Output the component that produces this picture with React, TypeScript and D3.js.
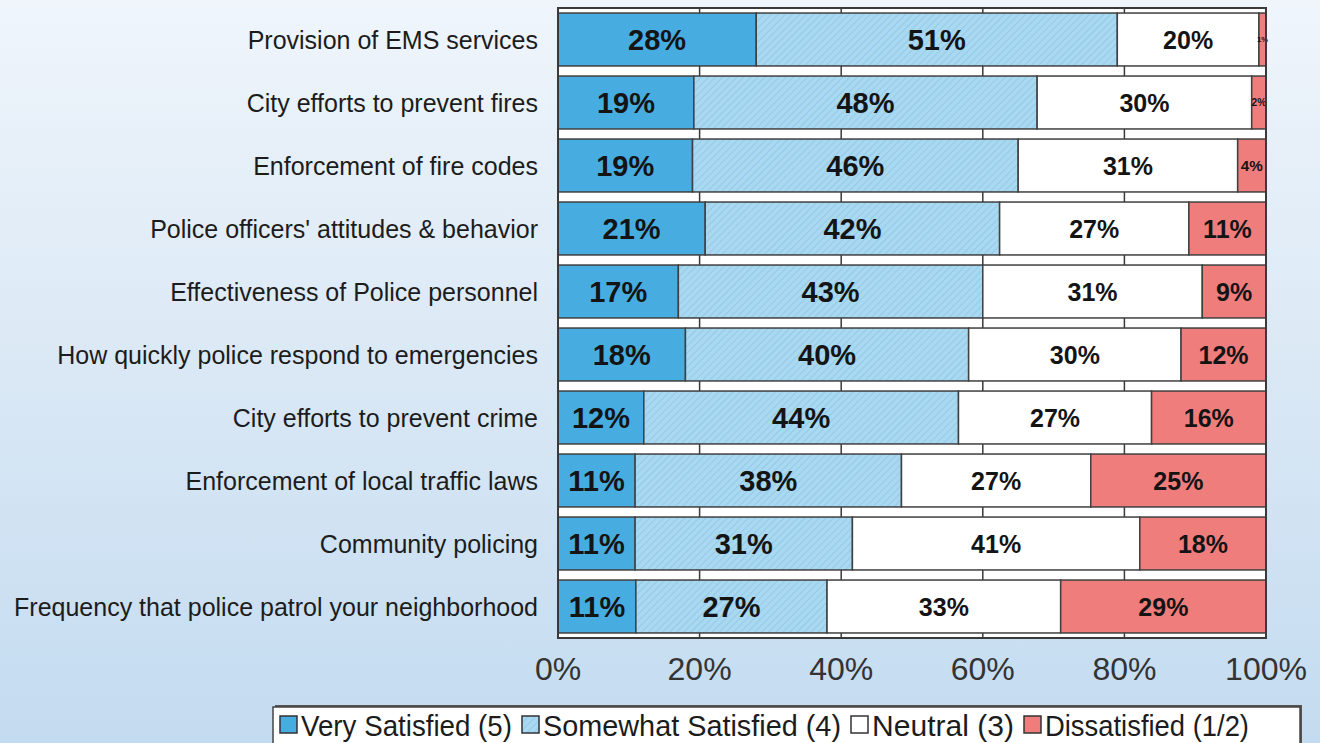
import React from "react";
import * as d3 from "d3";

const categories = [
  "Provision of EMS services",
  "City efforts to prevent fires",
  "Enforcement of fire codes",
  "Police officers' attitudes & behavior",
  "Effectiveness of Police personnel",
  "How quickly police respond to emergencies",
  "City efforts to prevent crime",
  "Enforcement of local traffic laws",
  "Community policing",
  "Frequency that police patrol your neighborhood",
];
const verySatisfied = [28, 19, 19, 21, 17, 18, 12, 11, 11, 11];
const somewhatSatisfied = [51, 48, 46, 42, 43, 40, 44, 38, 31, 27];
const neutral = [20, 30, 31, 27, 31, 30, 27, 27, 41, 33];
const dissatisfied = [1, 2, 4, 11, 9, 12, 16, 25, 18, 29];
const seriesKeys = ["very", "somewhat", "neutral", "dissat"];
const seriesNames = ["Very Satisfied (5)", "Somewhat Satisfied (4)", "Neutral (3)", "Dissatisfied (1/2)"];
const tickValues = [0, 0.2, 0.4, 0.6, 0.8, 1];

const W = 1320;
const H = 743;
const plot = { left: 558, right: 1266, top: 8, bottom: 638 };
const fills = ["#47ade1", "url(#hatch)", "#ffffff", "#ef7d7c"];
const legendSwatch = ["#47ade1", "#a6d7f1", "#ffffff", "#ef7d7c"];
const legendTextWidths = [211, 298, 142, 204];

export default function App() {
  const rows = categories.map((c, i) => ({
    cat: c,
    very: verySatisfied[i],
    somewhat: somewhatSatisfied[i],
    neutral: neutral[i],
    dissat: dissatisfied[i],
  }));
  const stack = d3.stack<any>().keys(seriesKeys).offset(d3.stackOffsetExpand);
  const stacked = stack(rows);

  const x = d3.scaleLinear().domain([0, 1]).range([plot.left, plot.right]);
  const y = d3
    .scaleBand<string>()
    .domain(categories)
    .range([plot.top, plot.bottom])
    .paddingInner(0.16)
    .paddingOuter(0.08);

  const font = "'Liberation Sans', Arial, sans-serif";

  let cursor = 280;
  const legendItems = seriesNames.map((name, i) => {
    const sx = cursor;
    const tx = sx + 21;
    cursor = tx + legendTextWidths[i] + 10;
    return { name, sx, tx, w: legendTextWidths[i], fill: legendSwatch[i], hatch: i === 1 };
  });

  return (
    <svg
      width={W}
      height={H}
      style={{ position: "absolute", left: 0, top: 0, display: "block" }}
      fontFamily={font}
    >
      <defs>
        <linearGradient id="bg" x1="0" y1="0" x2="0" y2="1">
          <stop offset="0" stopColor="#eff5fb" />
          <stop offset="0.5" stopColor="#dae8f5" />
          <stop offset="1" stopColor="#c3dbf0" />
        </linearGradient>
        <pattern id="hatch" width="5" height="5" patternUnits="userSpaceOnUse" patternTransform="rotate(45)">
          <rect width="5" height="5" fill="#a9d8f1" />
          <line x1="0" y1="0" x2="0" y2="5" stroke="#8fc7e6" strokeWidth="1.6" />
        </pattern>
      </defs>
      <rect x={0} y={0} width={W} height={H} fill="url(#bg)" />

      <rect
        x={plot.left}
        y={plot.top}
        width={plot.right - plot.left}
        height={plot.bottom - plot.top}
        fill="#ffffff"
      />
      {tickValues.slice(1, -1).map((t) => (
        <line
          key={t}
          x1={x(t)}
          x2={x(t)}
          y1={plot.top}
          y2={plot.bottom}
          stroke="#3a3a3a"
          strokeWidth={1.5}
        />
      ))}

      {stacked.map((s, si) => (
        <g key={s.key}>
          {s.map((d, i) => {
            const x0 = x(d[0]);
            const x1 = x(d[1]);
            const yy = y(categories[i])!;
            return (
              <rect
                key={i}
                x={x0}
                y={yy}
                width={x1 - x0}
                height={y.bandwidth()}
                fill={fills[si]}
                stroke="#404040"
                strokeWidth={1.5}
              />
            );
          })}
        </g>
      ))}

      {stacked.map((s, si) => (
        <g key={"l" + s.key}>
          {s.map((d, i) => {
            const x0 = x(d[0]);
            const x1 = x(d[1]);
            const w = x1 - x0;
            const base = si < 2 ? 29 : 25;
            const fs = Math.min(base, 5 + w * 0.36);
            const v = (d.data as any)[s.key];
            return (
              <text
                key={i}
                x={(x0 + x1) / 2}
                y={y(categories[i])! + y.bandwidth() / 2}
                dy="0.36em"
                textAnchor="middle"
                fontSize={fs}
                fontWeight="bold"
                fill="#141414"
              >
                {v}%
              </text>
            );
          })}
        </g>
      ))}

      <rect
        x={plot.left}
        y={plot.top}
        width={plot.right - plot.left}
        height={plot.bottom - plot.top}
        fill="none"
        stroke="#3a3a3a"
        strokeWidth={2}
      />

      {categories.map((c) => (
        <text
          key={c}
          x={538}
          y={y(c)! + y.bandwidth() / 2}
          dy="0.36em"
          textAnchor="end"
          fontSize={25}
          fill="#1c1c1c"
        >
          {c}
        </text>
      ))}

      {tickValues.map((t) => (
        <text key={t} x={x(t)} y={680} textAnchor="middle" fontSize={32} fill="#333">
          {d3.format(".0%")(t)}
        </text>
      ))}

      <rect x={275} y={705} width={1027} height={60} fill="#555" />
      <rect x={273} y={707} width={1027} height={60} fill="#ffffff" stroke="#444" strokeWidth={1.5} />
      {legendItems.map((it) => (
        <g key={it.name}>
          <rect
            x={it.sx}
            y={716}
            width={17}
            height={17}
            fill={it.hatch ? "url(#hatch)" : it.fill}
            stroke="#333"
            strokeWidth={1.5}
          />
          <text
            x={it.tx}
            y={736}
            fontSize={29}
            fill="#1c1c1c"
            textLength={it.w}
            lengthAdjust="spacingAndGlyphs"
          >
            {it.name}
          </text>
        </g>
      ))}
    </svg>
  );
}
